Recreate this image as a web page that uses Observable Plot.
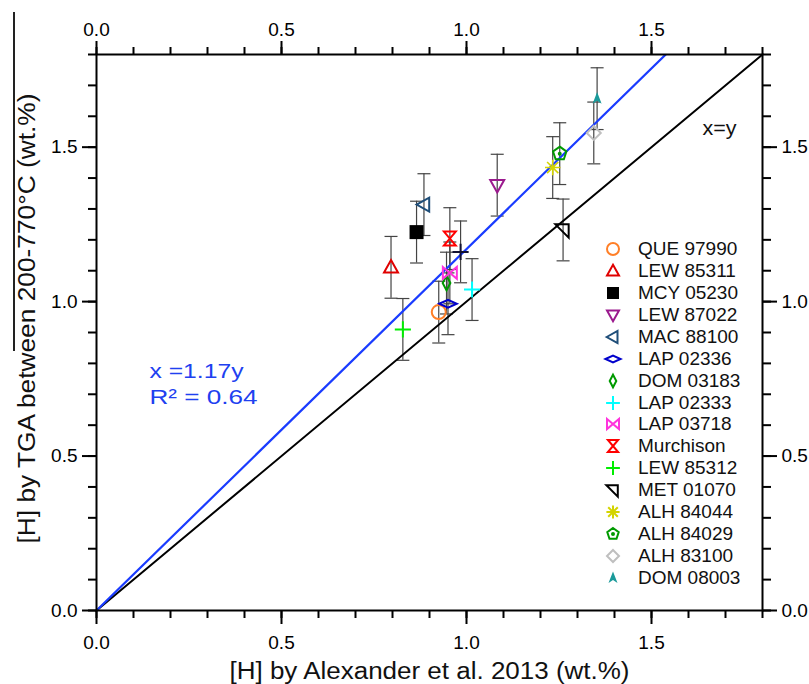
<!DOCTYPE html>
<html><head><meta charset="utf-8">
<script src="https://cdn.jsdelivr.net/npm/d3@7"></script>
<script src="https://cdn.jsdelivr.net/npm/@observablehq/plot@0.6"></script>
<style>
body{margin:0;background:#fff;font-family:"Liberation Sans",Arial,sans-serif}
#wrap{position:relative;width:809px;height:684px;overflow:hidden}
#legend{position:absolute;left:600px;top:238px}
.row{display:flex;align-items:center;height:21.95px;font-size:19px;color:#111;white-space:nowrap}
.row svg{width:26px;height:22px;flex:none}
.row span{margin-left:12px}
#artifact{position:absolute;left:13px;top:12px;width:1.5px;height:339px;background:#222}
</style>
</head><body><div id="wrap"><div id="artifact"></div></div>
<script>
// ---- data ----
const names = ["QUE 97990","LEW 85311","MCY 05230","LEW 87022","MAC 88100","LAP 02336","DOM 03183","LAP 02333","LAP 03718","Murchison","LEW 85312","MET 01070","ALH 84044","ALH 84029","ALH 83100","DOM 08003",""];
const xValues = [0.925,0.796,0.865,1.083,0.885,0.950,0.946,1.015,0.955,0.955,0.828,1.261,1.233,1.252,1.344,1.353,0.984];
const yValues = [0.966,1.111,1.225,1.377,1.314,0.993,1.060,1.039,1.093,1.204,0.910,1.232,1.434,1.479,1.546,1.657,1.161];
const yErrors = [0.1,0.1,0.1,0.1,0.1,0.1,0.1,0.1,0.1,0.1,0.1,0.1,0.1,0.1,0.1,0.1,0.1];
const colors = ["#ff7f27","#e00000","#000000","#9b1a8e","#1f4e79","#0000cc","#009a00","#00ffff","#ff33dd","#ff0000","#00ee00","#000000","#d4d400","#009a00","#bfbfbf","#1a9a9a","#111133"];
const shapes = ["circle","triUp","square","triDown","triLeft","diamondWide","diamondTall","plus","bowtie","hourglass","plus","rightTri","asterisk","pentagon","diamond","arrow","plus"];
const filled = [false,false,true,false,false,false,false,false,false,false,false,false,false,false,false,true,false];
const majorTicks = [0,0.5,1.0,1.5];
const domain = [0,1.8];
const fitSlope = 1.17;
const fitR2 = 0.64;
const xTitle = "[H] by Alexander et al. 2013 (wt.%)";
const yTitle = "[H] by TGA between 200-770°C (wt.%)";
const fitLabel = `x =${fitSlope}y`;
const r2Label = `R² = ${fitR2.toFixed(2)}`;

// ---- symbols ----
function sym(fn){return {draw(c,size){fn(c,Math.sqrt(size/Math.PI));}};}
function poly(c,pts){c.moveTo(pts[0][0],pts[0][1]);for(let k=1;k<pts.length;k++)c.lineTo(pts[k][0],pts[k][1]);c.closePath();}
const symbolDefs = {
  circle: sym((c,r)=>{c.moveTo(r,0);c.arc(0,0,r,0,2*Math.PI);}),
  triUp: sym((c,r)=>poly(c,[[0,-r*1.05],[r,r*0.75],[-r,r*0.75]])),
  square: sym((c,r)=>{c.rect(-r,-r,2*r,2*r);}),
  triDown: sym((c,r)=>poly(c,[[0,r*1.05],[r,-r*0.75],[-r,-r*0.75]])),
  triLeft: sym((c,r)=>poly(c,[[-r*1.05,0],[r*0.75,-r],[r*0.75,r]])),
  diamondWide: sym((c,r)=>poly(c,[[-r*1.25,0],[0,-r*0.55],[r*1.25,0],[0,r*0.55]])),
  diamondTall: sym((c,r)=>poly(c,[[0,-r*1.05],[r*0.55,0],[0,r*1.05],[-r*0.55,0]])),
  diamond: sym((c,r)=>poly(c,[[0,-r],[r,0],[0,r],[-r,0]])),
  plus: sym((c,r)=>{c.moveTo(-r*1.15,0);c.lineTo(r*1.15,0);c.moveTo(0,-r*1.15);c.lineTo(0,r*1.15);}),
  bowtie: sym((c,r)=>poly(c,[[-r,-r*0.85],[r,r*0.85],[r,-r*0.85],[-r,r*0.85]])),
  hourglass: sym((c,r)=>poly(c,[[-r*0.85,-r],[r*0.85,-r],[-r*0.85,r],[r*0.85,r]])),
  rightTri: sym((c,r)=>poly(c,[[-r*1.1,-r*0.8],[r*0.8,-r*0.8],[r*0.8,r*1.1]])),
  asterisk: sym((c,r)=>{const a=r*1.1,b=r*0.8;c.moveTo(-a,0);c.lineTo(a,0);c.moveTo(0,-a);c.lineTo(0,a);c.moveTo(-b,-b);c.lineTo(b,b);c.moveTo(-b,b);c.lineTo(b,-b);}),
  pentagon: sym((c,r)=>{const p=d3.range(5).map(k=>{const t=-Math.PI/2+k*2*Math.PI/5;return [r*Math.cos(t),r*Math.sin(t)];});poly(c,p);c.moveTo(1,0);c.arc(0,0,1,0,2*Math.PI);}),
  arrow: sym((c,r)=>poly(c,[[0,-r*1.1],[r*0.75,r*0.85],[0,r*0.35],[-r*0.75,r*0.85]]))
};
const capSymbol = {draw(c){c.moveTo(-6.5,0);c.lineTo(6.5,0);}};

const rows = names.map((n,i)=>({name:n,x:xValues[i],y:yValues[i],e:yErrors[i]}));
const minorTicks = d3.range(0,19).map(k=>k/10);

const pointMarks = rows.map((d,i)=>Plot.dot([d],{x:"x",y:"y",symbol:symbolDefs[shapes[i]],r:shapes[i]==="arrow"?6:7,
  stroke: filled[i]?"none":colors[i], fill: filled[i]?colors[i]:"none", strokeWidth: shapes[i]==="asterisk"?1.6:2}));

const plot = Plot.plot({
  width:809, height:684,
  marginLeft:96, marginRight:47, marginTop:54, marginBottom:74,
  x:{domain, label:null},
  y:{domain, label:null},
  style:{fontFamily:"'Liberation Sans', Arial, sans-serif", fontSize:"19px", color:"#000", background:"#fff", overflow:"visible"},
  marks:[
    Plot.ruleX(rows,{x:"x",y1:d=>d.y-d.e,y2:d=>d.y+d.e,stroke:"#444",strokeWidth:1.2}),
    Plot.dot(rows,{x:"x",y:d=>d.y-d.e,symbol:capSymbol,r:5,stroke:"#444",strokeWidth:1.2,fill:"none"}),
    Plot.dot(rows,{x:"x",y:d=>d.y+d.e,symbol:capSymbol,r:5,stroke:"#444",strokeWidth:1.2,fill:"none"}),
    Plot.line(domain.map(v=>[v,v]),{stroke:"#000",strokeWidth:2}),
    Plot.line([[domain[0],fitSlope*domain[0]],[domain[1],fitSlope*domain[1]]],{stroke:"#1a3cff",strokeWidth:2.2,clip:true}),
    ...pointMarks,
    Plot.frame({stroke:"#000",strokeWidth:2}),
    Plot.axisX({anchor:"bottom",ticks:minorTicks,tickSize:8,tickFormat:()=>"",label:null,strokeWidth:2}),
    Plot.axisX({anchor:"bottom",ticks:majorTicks,tickSize:14,tickPadding:11,tickFormat:d3.format(".1f"),label:null,strokeWidth:2,fontSize:19}),
    Plot.axisX({anchor:"top",ticks:minorTicks,tickSize:8,tickFormat:()=>"",label:null,strokeWidth:2}),
    Plot.axisX({anchor:"top",ticks:majorTicks,tickSize:14,tickPadding:5,tickFormat:d3.format(".1f"),label:null,strokeWidth:2,fontSize:19}),
    Plot.axisY({anchor:"left",ticks:minorTicks,tickSize:8,tickFormat:()=>"",label:null,strokeWidth:2}),
    Plot.axisY({anchor:"left",ticks:majorTicks,tickSize:14,tickPadding:5,tickFormat:d3.format(".1f"),label:null,strokeWidth:2,fontSize:19}),
    Plot.axisY({anchor:"right",ticks:minorTicks,tickSize:8,tickFormat:()=>"",label:null,strokeWidth:2}),
    Plot.axisY({anchor:"right",ticks:majorTicks,tickSize:14,tickPadding:5,tickFormat:d3.format(".1f"),label:null,strokeWidth:2,fontSize:19}),
    Plot.text([xTitle],{frameAnchor:"bottom",dy:61,text:d=>d,textAnchor:"middle",lineAnchor:"middle",fontSize:23,fill:"#111"}),
    Plot.text([yTitle],{frameAnchor:"left",dx:-69,dy:-14,rotate:-90,text:d=>d,textAnchor:"middle",lineAnchor:"middle",fontSize:23,fill:"#111"}),
    Plot.text(["x=y"],{frameAnchor:"top-right",dx:-43,dy:74,text:d=>d,textAnchor:"middle",lineAnchor:"middle",fontSize:21,fill:"#111"}),
    Plot.text([fitLabel],{frameAnchor:"bottom-left",dx:53,dy:-239,text:d=>d,textAnchor:"start",lineAnchor:"middle",fontSize:21,fill:"#2040f0"}),
    Plot.text([r2Label],{frameAnchor:"bottom-left",dx:53,dy:-213,text:d=>d,textAnchor:"start",lineAnchor:"middle",fontSize:21,fill:"#2040f0"})
  ]
});
// stretch text widths to match the reference's wide glyphs
const widths = new Map([[xTitle,400],[yTitle,450],["x=y",34],[fitLabel,94],[r2Label,108]]);
d3.select(plot).selectAll("text").each(function(){
  const w = widths.get(this.textContent);
  if (w) d3.select(this).attr("textLength",w).attr("lengthAdjust","spacingAndGlyphs");
});
document.getElementById("wrap").prepend(plot);

// ---- legend ----
const legend = document.createElement("div");
legend.id = "legend";
rows.forEach((d,i)=>{
  if(!d.name) return;
  const row = document.createElement("div");
  row.className = "row";
  const path = d3.symbol(symbolDefs[shapes[i]], Math.PI*36)();
  row.innerHTML = `<svg viewBox="-13 -11 26 22"><path d="${path}" fill="${filled[i]?colors[i]:"none"}" stroke="${filled[i]?"none":colors[i]}" stroke-width="2"/></svg><span>${d.name}</span>`;
  legend.appendChild(row);
});
document.getElementById("wrap").appendChild(legend);
</script>
</body></html>
